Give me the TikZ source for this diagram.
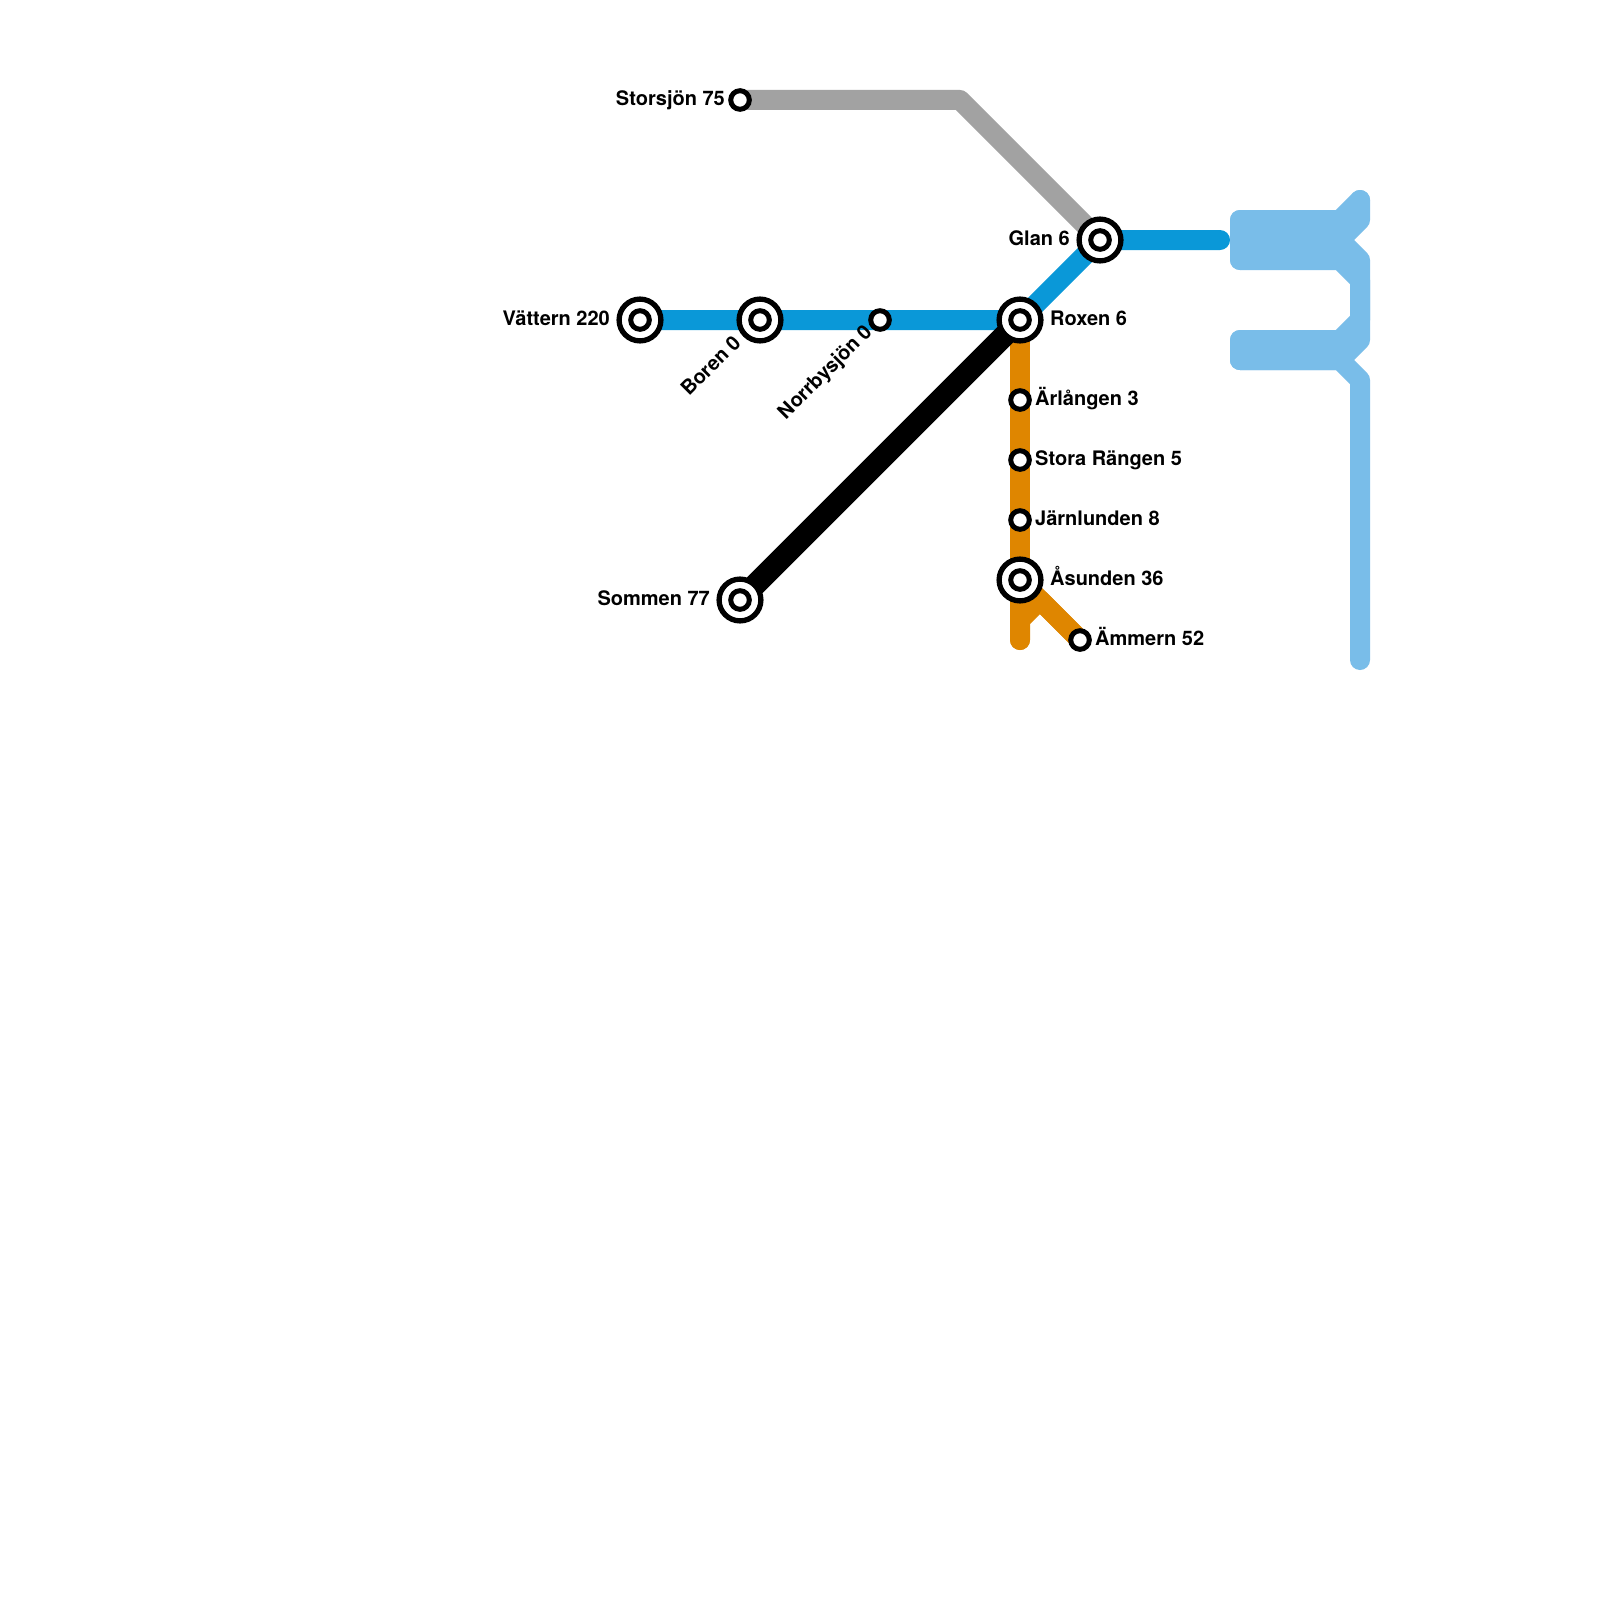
\documentclass[tikz,border=0pt]{standalone}
\usepackage{fontspec}
\setmainfont{TeX Gyre Heros}
\definecolor{lblue}{HTML}{0A98D8}
\definecolor{sky}{HTML}{79BDE9}
\definecolor{ora}{HTML}{DF8600}
\definecolor{gry}{HTML}{A2A2A2}
\tikzset{
  route/.style={line width=20pt,line cap=round,line join=round},
  bigst/.style={circle,draw=black,fill=white,line width=5.3pt,minimum size=41.8pt,inner sep=0pt,outer sep=0pt},
  smallst/.style={circle,draw=black,fill=white,line width=5pt,minimum size=18.6pt,inner sep=0pt,outer sep=0pt},
  lab/.style={font=\fontsize{20pt}{24pt}\selectfont\bfseries,inner sep=0pt,text=black},
  labR/.style={lab,anchor=base west},
  labL/.style={lab,anchor=base east},
  labD/.style={lab,anchor=base east,rotate=45}
}
\begin{document}
\begin{tikzpicture}[x=1pt,y=-1pt]
\useasboundingbox (0,0) rectangle (1600,1600);
\fill[white] (0,0) rectangle (1600,1600);
\coordinate (gb) at (960,100);
\coordinate (be) at (1220,240);
\coordinate (oe) at (1020,640);
\coordinate (ob1) at (1020,620);
\coordinate (ob2) at (1040,600);
\coordinate (Glan) at (1100,240);
\coordinate (Roxen) at (1020,320);
\coordinate (Vattern) at (640,320);
\coordinate (Boren) at (760,320);
\coordinate (Norrby) at (880,320);
\coordinate (Storsjon) at (740,100);
\coordinate (Sommen) at (740,600);
\coordinate (Asunden) at (1020,580);
\coordinate (Ammern) at (1080,640);
% lines
\draw[route,gry] (Storsjon) -- (gb) -- (Glan);
\draw[route,lblue] (Vattern) -- (Roxen) -- (Glan) -- (be);
\draw[route,ora] (Roxen) -- (oe);
\draw[route,ora] (oe) -- (ob1) -- (ob2) -- (Ammern);
\draw[route,ora] (Asunden) -- (Ammern);
\draw[line width=22pt,line cap=round,black] (Sommen) -- (Roxen);
% light blue river
\begin{scope}[route,sky]
\draw (1240,220) -- (1240,260);
\draw (1240,340) -- (1240,360);
\draw (1240,220) -- (1340,220) -- (1360,200);
\draw (1240,240) -- (1340,240) -- (1360,220) -- (1360,200);
\draw (1240,240) -- (1340,240) -- (1360,260) -- (1360,320);
\draw (1240,260) -- (1340,260) -- (1360,280) -- (1360,320) -- (1340,340) -- (1240,340);
\draw (1240,360) -- (1340,360) -- (1360,340) -- (1360,320);
\draw (1240,360) -- (1340,360) -- (1360,380) -- (1360,660);
\end{scope}
% stations
\node[bigst] (nV) at (Vattern) {};
\node[smallst] (nVi) at (Vattern) {};
\node[bigst] (nB) at (Boren) {};
\node[smallst] (nBi) at (Boren) {};
\node[smallst] (nN) at (Norrby) {};
\node[bigst] (nR) at (Roxen) {};
\node[smallst] (nRi) at (Roxen) {};
\node[bigst] (nG) at (Glan) {};
\node[smallst] (nGi) at (Glan) {};
\node[smallst] (nS) at (Storsjon) {};
\node[bigst] (nSo) at (Sommen) {};
\node[smallst] (nSoi) at (Sommen) {};
\node[smallst] (nA) at (1020,400) {};
\node[smallst] (nSt) at (1020,460) {};
\node[smallst] (nJ) at (1020,520) {};
\node[bigst] (nAs) at (Asunden) {};
\node[smallst] (nAsi) at (Asunden) {};
\node[smallst] (nAm) at (Ammern) {};
% labels
\node[labL] (t1) at (725,105.5) {Storsjön 75};
\node[labL] (t2) at (1070,245) {Glan 6};
\node[labL] (t3) at (610,325) {Vättern 220};
\node[labD] (t4) at (742,344) {Boren 0};
\node[labD] (t5) at (873,333) {Norrbysjön 0};
\node[labR] (t6) at (1050,325) {Roxen 6};
\node[labR] (t7) at (1035,405) {Ärlången 3};
\node[labR] (t8) at (1035,465) {Stora Rängen 5};
\node[labR] (t9) at (1035,525) {Järnlunden 8};
\node[labR] (t10) at (1050,585) {Åsunden 36};
\node[labR] (t11) at (1095,645) {Ämmern 52};
\node[labL] (t12) at (710,605) {Sommen 77};
\end{tikzpicture}
\end{document}
